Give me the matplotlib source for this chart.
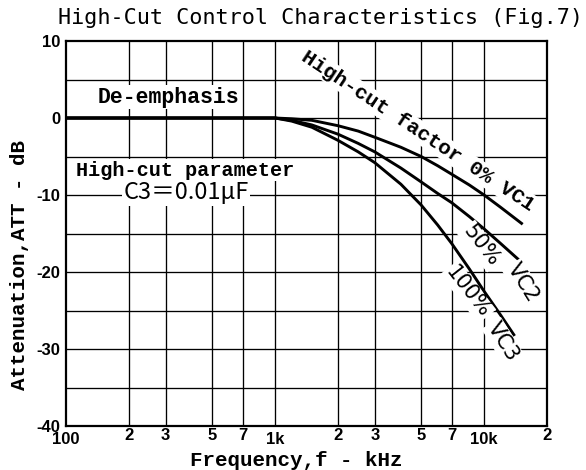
import matplotlib
matplotlib.use("Agg")
import matplotlib.pyplot as plt
from matplotlib.ticker import FixedLocator, NullLocator
from matplotlib.transforms import blended_transform_factory, offset_copy

# ---- data ----
vc1_f = [100, 200, 500, 1000, 1200, 1500, 2000, 2500, 3000, 4000, 5000, 6000, 7000, 8500, 10000, 12000, 15300]
vc1_db = [0, 0, 0, 0, -0.1, -0.3, -1.0, -1.7, -2.5, -3.8, -5.0, -6.2, -7.3, -8.7, -10.0, -11.6, -13.8]
vc2_f = [100, 200, 500, 1000, 1200, 1500, 2000, 2500, 3000, 4000, 5000, 6000, 7000, 8500, 10000, 12000, 15200]
vc2_db = [0, 0, 0, 0, -0.3, -0.9, -2.1, -3.3, -4.4, -6.5, -8.3, -9.8, -11.0, -12.8, -14.4, -16.3, -18.8]
vc3_f = [100, 200, 500, 1000, 1200, 1500, 2000, 2500, 3000, 4000, 5000, 6000, 7000, 8500, 10000, 12000, 14000]
vc3_db = [0, 0, 0, 0, -0.4, -1.2, -2.9, -4.4, -5.8, -8.6, -11.3, -13.9, -16.3, -19.6, -22.5, -25.6, -28.3]

x_ticks = [100, 200, 300, 500, 700, 1000, 2000, 3000, 5000, 7000, 10000, 20000]
x_tick_labels = ["100", "2", "3", "5", "7", "1k", "2", "3", "5", "7", "10k", "2"]
y_ticks = [-40, -30, -20, -10, 0, 10]
y_tick_labels = ["-40", "-30", "-20", "-10", "0", "10"]
y_grid = [-35, -30, -25, -20, -15, -10, -5, 0, 5]

W, H = 586, 470
fig = plt.figure(figsize=(W / 100, H / 100), dpi=100)
ax = fig.add_axes([66 / W, 44 / H, 481 / W, 385 / H])
ax.set_xscale("log")
ax.set_xlim(100, 20000)
ax.set_ylim(-40, 10)

# grid
for xv in x_ticks[1:-1]:
    ax.axvline(xv, color="black", lw=0.95, zorder=1)
for yv in y_grid:
    ax.axhline(yv, color="black", lw=0.95, zorder=1)

for f, d in ((vc1_f, vc1_db), (vc2_f, vc2_db), (vc3_f, vc3_db)):
    ax.plot(f, d, color="black", lw=2.1, solid_capstyle="butt", zorder=3)

for s in ax.spines.values():
    s.set_linewidth(1.6)
    s.set_zorder(5)

ax.xaxis.set_major_locator(FixedLocator(x_ticks))
ax.xaxis.set_minor_locator(NullLocator())
ax.set_xticklabels([])
ax.set_yticks(y_ticks)
ax.set_yticklabels(y_tick_labels)
ax.tick_params(axis="both", length=0)
ax.tick_params(axis="y", pad=4, labelsize=12)
for lab in ax.get_yticklabels():
    lab.set_fontfamily("Liberation Sans")
    lab.set_fontweight("bold")

# x tick labels: single digits sit a little higher than the decade labels
btr = blended_transform_factory(ax.transData, ax.transAxes)
for xv, lab in zip(x_ticks, x_tick_labels):
    dy = -2 if len(lab) == 1 else -6
    ax.text(xv, 0, lab, transform=offset_copy(btr, fig=fig, x=0, y=dy, units="dots"),
            ha="center", va="top", family="Liberation Sans", fontweight="bold", fontsize=12)

mono = "Liberation Mono"
wb = dict(facecolor="white", edgecolor="none", pad=1.0)

fig.text(320 / W, 1 - 18 / H, "High-Cut Control Characteristics (Fig.7)",
         family="DejaVu Sans Mono", fontsize=15.7, ha="center", va="center")
fig.text(296 / W, 1 - 460 / H, "Frequency,f - kHz", family=mono, fontweight="bold",
         fontsize=15, ha="center", va="center")
fig.text(20 / W, 1 - 265 / H, "Attenuation,ATT - dB", family=mono, fontweight="bold",
         fontsize=15, ha="center", va="center", rotation=90)

def ptext(x, y, s, **kw):
    fig.text(x / W, 1 - y / H, s, ha="center", va="center", zorder=4, bbox=wb, **kw)

ptext(168, 97, "De-emphasis", family=mono, fontweight="bold", fontsize=15.5)
ptext(185, 170, "High-cut parameter", family=mono, fontweight="bold", fontsize=14.5)
ptext(186, 193, "C3＝0.01μF", family=["Noto Sans CJK JP", "DejaVu Sans"], fontsize=17)
ptext(418, 131, "High-cut factor 0% VC1", family=mono, fontweight="bold", fontsize=15,
      rotation=-33.5, rotation_mode="anchor")
ptext(481, 246, "50%", family="DejaVu Sans", fontsize=15, rotation=-52, rotation_mode="anchor")
ptext(523, 283, "VC2", family="DejaVu Sans", fontsize=15, rotation=-58, rotation_mode="anchor")
ptext(468, 292, "100%", family="DejaVu Sans", fontsize=15, rotation=-52, rotation_mode="anchor")
ptext(503, 342, "VC3", family="DejaVu Sans", fontsize=15, rotation=-58, rotation_mode="anchor")

fig.savefig("out.png", dpi=100)
